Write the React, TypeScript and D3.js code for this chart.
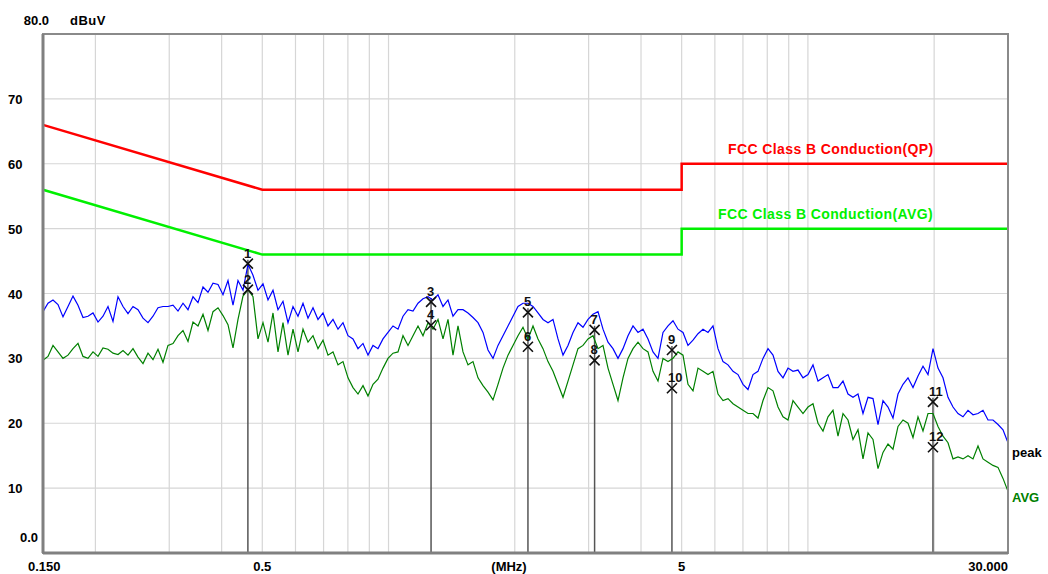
import React from 'react';
import * as d3 from 'd3';

// sweep: 0.15 - 30 MHz, log spaced points
const sweepStart = 0.15;
const sweepStop = 30;

const peakDb = [
  37.2, 38.5, 39.0, 38.3, 36.4, 38.0, 39.6, 38.2, 36.3, 36.5,
  37.0, 35.6, 36.5, 38.0, 35.7, 39.5, 38.0, 36.9, 38.0, 37.5,
  36.2, 35.5, 36.5, 37.8, 38.0, 38.0, 38.2, 37.3, 38.5, 37.5,
  39.5, 38.6, 41.0, 40.2, 41.6, 41.4, 39.8, 42.0, 38.2, 42.0,
  40.5, 44.5, 42.8, 40.5,
  41.5, 39.0, 40.5, 37.5, 38.8, 35.5, 38.0, 36.5, 38.5, 36.2,
  37.8, 36.0, 37.0, 35.0, 36.0, 34.5, 35.5, 33.5, 33.0, 31.5,
  32.3, 30.5, 32.0, 31.5, 33.0, 34.0, 35.0, 34.5, 36.5, 37.5,
  37.3, 38.5, 39.2, 39.5, 39.0, 39.8, 38.0, 39.0, 36.5, 37.5,
  37.5, 37.0, 36.3, 35.5, 34.0, 31.3, 30.0, 32.0, 33.5, 35.0,
  36.5, 38.0, 38.5, 38.5, 38.0, 37.0, 36.0, 35.5, 36.0, 33.0,
  30.5, 32.0, 34.0, 35.5, 34.8, 36.0, 36.8, 37.2, 34.5, 32.5,
  31.5, 30.0, 31.5, 33.5, 35.0, 34.0, 34.5, 33.0, 31.0, 30.0,
  34.0, 35.0, 35.8, 34.5, 34.0, 32.0, 32.8, 33.8, 34.5, 34.0,
  35.0, 31.5, 29.5, 29.0, 28.0, 27.5, 26.0, 25.2, 27.5, 28.0,
  30.0, 31.5, 30.5, 28.0, 27.0, 28.5, 28.0, 28.2, 27.0, 27.5,
  29.0, 26.5, 27.0, 27.5, 25.5, 25.5, 26.5, 24.5, 24.0, 24.5,
  21.5, 24.0, 23.8, 19.8, 23.5, 22.5, 20.8, 24.5, 26.0, 27.0,
  25.5, 27.3, 28.8, 27.5, 31.5, 28.5, 27.0, 24.0, 22.5, 21.5,
  21.0, 22.0, 21.3, 21.5, 22.0, 20.5, 20.5, 19.8, 19.0, 17.0,
];

const avgDb = [
  29.7, 30.3, 32.0, 31.0, 30.0, 30.5, 31.5, 32.3, 30.3, 30.0,
  31.0, 30.3, 31.6, 31.4, 30.8, 30.6, 31.2, 30.5, 31.5, 30.2,
  29.2, 30.8, 29.8, 31.4, 29.4, 32.0, 32.3, 33.5, 34.3, 32.6,
  35.6, 35.0, 36.8, 34.3, 37.2, 37.8, 36.6, 35.2, 31.6, 36.0,
  39.6, 40.6, 39.5, 33.0,
  35.5, 32.5, 37.0, 31.0, 35.5, 30.5, 34.5, 31.0, 34.5, 32.5,
  33.5, 31.5, 32.8, 30.5, 31.0, 29.0, 29.5, 27.0, 25.5, 24.5,
  25.8, 24.2, 26.0, 26.8, 28.5, 30.0, 30.8, 31.0, 33.5, 32.0,
  33.5, 35.0, 33.5, 35.5, 34.5, 36.0, 33.0, 36.0, 30.5, 35.0,
  31.0, 29.0, 29.5, 27.0, 25.8, 24.8, 23.6, 26.0, 28.5, 30.5,
  32.0, 33.5, 34.8, 33.0, 35.0, 33.0, 31.5, 29.5, 28.0, 26.0,
  24.0, 26.5, 29.0, 31.5, 32.0, 33.0, 33.5, 31.5, 32.0, 28.5,
  26.0, 23.5, 27.0, 30.0, 31.5, 32.5, 31.5, 31.0, 28.0, 26.5,
  30.0, 29.5, 30.0, 31.0, 30.5, 26.0, 25.0, 28.5, 28.0, 27.5,
  28.0, 24.5, 23.5, 23.8, 23.0, 22.5, 22.0, 21.5, 21.5, 20.8,
  23.5, 25.5, 25.0, 22.5, 21.0, 20.5, 23.5, 22.5, 21.5, 22.5,
  23.0, 20.0, 18.8, 21.0, 22.0, 18.0, 21.5, 20.5, 17.5, 19.0,
  14.5, 18.5, 17.5, 13.0, 15.5, 16.8, 16.0, 19.5, 20.5, 20.0,
  17.8, 21.0, 18.8, 21.5, 21.5, 19.5, 18.0, 17.0, 14.5, 14.8,
  14.5, 15.0, 14.5, 16.5, 14.5, 14.0, 13.5, 13.2, 11.5, 9.5,
];

// limit lines (FCC Class B conducted)
const limitFreq = [0.15, 0.5, 0.5, 5, 5, 30];
const qpLimit = [66, 56, 56, 56, 60, 60];
const avgLimit = [56, 46, 46, 46, 50, 50];

// markers
const markerNo = [1, 2, 3, 4, 5, 6, 7, 8, 9, 10, 11, 12];
const markerFreq = [0.462, 0.462, 1.263, 1.263, 2.15, 2.15, 3.1, 3.1, 4.74, 4.74, 19.87, 19.87];
const markerDb = [44.6, 40.6, 38.7, 35.1, 37.1, 31.8, 34.4, 29.7, 31.3, 25.4, 23.3, 16.3];

const yTicks = [10, 20, 30, 40, 50, 60, 70];
const xGrid = [0.2, 0.3, 0.4, 0.5, 0.6, 0.7, 0.8, 0.9, 1, 2, 3, 4, 5, 6, 7, 8, 9, 10, 20];

const W = 1048;
const H = 574;
const left = 43, right = 1008, top = 34, bottom = 553;
const font = '"Liberation Sans", Arial, sans-serif';

export default function App() {
  const x = d3.scaleLog().domain([sweepStart, sweepStop]).range([left, right]);
  const y = d3.scaleLinear().domain([0, 80]).range([bottom, top]);

  const n = peakDb.length;
  const sweep = d3.range(n).map(i => sweepStart * Math.pow(sweepStop / sweepStart, i / (n - 1)));

  const trace = d3.line<number>()
    .x((_, i) => x(sweep[i]))
    .y(d => y(d));

  const limit = d3.line<number>()
    .x((_, i) => x(limitFreq[i]))
    .y(d => y(d));

  return (
    <svg width={W} height={H} style={{ position: 'absolute', left: 0, top: 0, background: '#fff' }}
      fontFamily={font} fontWeight="bold">
      {/* grid */}
      {xGrid.map(f => (
        <line key={'gx' + f} x1={x(f)} x2={x(f)} y1={top} y2={bottom} stroke="#d6d6d6" strokeWidth={1.2} />
      ))}
      {yTicks.map(t => (
        <line key={'gy' + t} x1={left} x2={right} y1={y(t)} y2={y(t)} stroke="#d6d6d6" strokeWidth={1.2} />
      ))}

      {/* marker stems */}
      {markerFreq.map((f, i) => i % 2 === 0 && (
        <line key={'ms' + i} x1={x(f)} x2={x(f)} y1={y(markerDb[i]) - 4} y2={bottom}
          stroke="#555" strokeWidth={1.5} />
      ))}

      {/* limits */}
      <path d={limit(qpLimit) || ''} fill="none" stroke="#ff0000" strokeWidth={2.5} />
      <path d={limit(avgLimit) || ''} fill="none" stroke="#00f000" strokeWidth={2.5} />
      <text x={728} y={154} fontSize={14} letterSpacing={0.4} fill="#ff0000">FCC Class B Conduction(QP)</text>
      <text x={718} y={219} fontSize={14} letterSpacing={0.4} fill="#00f000">FCC Class B Conduction(AVG)</text>

      {/* traces */}
      <path d={trace(avgDb) || ''} fill="none" stroke="#008000" strokeWidth={1.2} />
      <path d={trace(peakDb) || ''} fill="none" stroke="#0000ff" strokeWidth={1.2} />

      {/* markers */}
      {markerFreq.map((f, i) => {
        const mx = x(f);
        const my = y(markerDb[i]);
        return (
          <g key={'m' + i}>
            <path d={`M${mx - 5},${my - 5}L${mx + 5},${my + 5}M${mx - 5},${my + 5}L${mx + 5},${my - 5}`}
              stroke="#111" strokeWidth={1.6} />
            <text x={mx - 4} y={my - 6} fontSize={13} fill="#111">{markerNo[i]}</text>
          </g>
        );
      })}

      {/* frame */}
      <rect x={left} y={top} width={right - left} height={bottom - top} fill="none" stroke="#8a8a8a" strokeWidth={2} />
      <line x1={left} x2={left} y1={top} y2={bottom} stroke="#808080" strokeWidth={3} />
      <line x1={left} x2={right} y1={bottom} y2={bottom} stroke="#808080" strokeWidth={3} />

      {/* y labels */}
      <text x={49} y={25} fontSize={13} textAnchor="end" fill="#000">80.0</text>
      <text x={70} y={25} fontSize={13} letterSpacing={0.5} fill="#000">dBuV</text>
      {yTicks.map(t => (
        <text key={'yl' + t} x={8} y={y(t) + 5} fontSize={13} fill="#000">{t}</text>
      ))}
      <text x={38} y={y(0) - 11} fontSize={13} textAnchor="end" fill="#000">0.0</text>

      {/* x labels */}
      <text x={28} y={571} fontSize={13} fill="#000">0.150</text>
      <text x={x(0.5)} y={571} fontSize={13} textAnchor="middle" fill="#000">0.5</text>
      <text x={509} y={571} fontSize={13} textAnchor="middle" fill="#000">(MHz)</text>
      <text x={x(5)} y={571} fontSize={13} textAnchor="middle" fill="#000">5</text>
      <text x={right} y={571} fontSize={13} textAnchor="end" fill="#000">30.000</text>

      {/* trace labels */}
      <text x={1012} y={457} fontSize={13} fill="#000">peak</text>
      <text x={1012} y={502} fontSize={13} fill="#008000">AVG</text>
    </svg>
  );
}
